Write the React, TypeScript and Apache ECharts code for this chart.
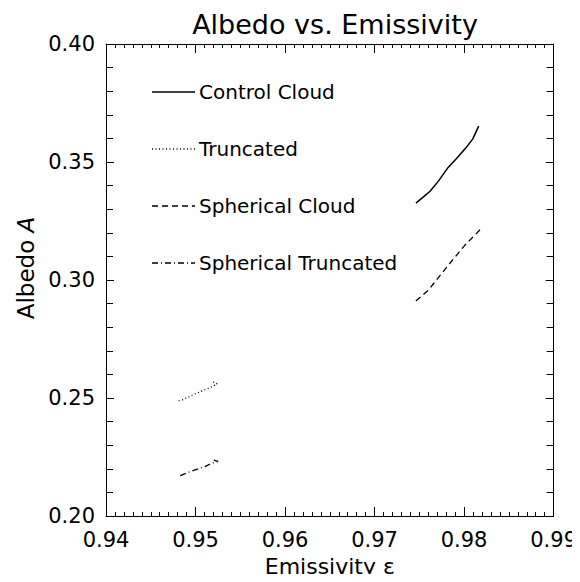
import React, { useEffect, useRef } from "react";
import * as echarts from "echarts";

const seriesNames = ["Control Cloud", "Truncated", "Spherical Cloud", "Spherical Truncated"];

const controlX = [0.97462, 0.97546, 0.9762, 0.97711, 0.97822, 0.97913, 0.98023, 0.98097, 0.98163];
const controlY = [0.3326, 0.3352, 0.3376, 0.3418, 0.3477, 0.3514, 0.3561, 0.3598, 0.3652];

const truncX = [0.94812, 0.94859, 0.94903, 0.94988, 0.95068, 0.9516, 0.95241, 0.95207, 0.95171];
const truncY = [0.24884, 0.24926, 0.25011, 0.25166, 0.25291, 0.25432, 0.256, 0.25671, 0.25655];

const sphX = [0.97462, 0.97601, 0.97822, 0.98005, 0.98207];
const sphY = [0.2911, 0.2957, 0.3062, 0.3146, 0.3224];

const sphTruncX = [0.94829, 0.94922, 0.94995, 0.95105, 0.95178, 0.95252, 0.95196];
const sphTruncY = [0.21712, 0.21853, 0.21951, 0.22092, 0.22232, 0.22316, 0.22372];

const xTicks = { min: 0.94, max: 0.99, interval: 0.01 };
const yTicks = { min: 0.2, max: 0.4, interval: 0.05 };

const FONT = "DejaVu Sans";

function pairs(xs: number[], ys: number[]) {
  return xs.map((x, i) => [x, ys[i]]);
}

export default function App() {
  const ref = useRef<HTMLDivElement>(null);
  useEffect(() => {
    if (!ref.current) return;
    const chart = echarts.init(ref.current, undefined, { renderer: "svg" });
    const axisCommon = {
      axisLine: { show: true, onZero: false, lineStyle: { color: "#000", width: 1 } },
      splitLine: { show: false },
      minorSplitLine: { show: false },
    };
    const xBase = {
      type: "value",
      min: xTicks.min,
      max: xTicks.max,
      interval: xTicks.interval,
      ...axisCommon,
      axisTick: { show: true, inside: true, length: 9, lineStyle: { color: "#000" } },
      minorTick: { show: true, splitNumber: 10, length: 4, lineStyle: { color: "#000" } },
    };
    const yBase = {
      type: "value",
      min: yTicks.min,
      max: yTicks.max,
      interval: yTicks.interval,
      ...axisCommon,
      axisTick: { show: true, inside: true, length: 8, lineStyle: { color: "#000" } },
      minorTick: { show: true, splitNumber: 5, length: 7, lineStyle: { color: "#000" } },
    };
    const dashes: any[] = [null, [1, 2.5], [6, 4], [6, 3, 1, 3]];
    const widths = [1.5, 1.3, 1.3, 1.3];
    const datas = [
      pairs(controlX, controlY),
      pairs(truncX, truncY),
      pairs(sphX, sphY),
      pairs(sphTruncX, sphTruncY),
    ];
    const legendGraphics: any[] = [];
    seriesNames.forEach((name, i) => {
      const y = 92 + i * 57;
      legendGraphics.push({
        type: "line",
        shape: { x1: 152, y1: y, x2: 195, y2: y },
        style: { stroke: "#000", lineWidth: widths[i], lineDash: dashes[i] || undefined },
        silent: true,
      });
      legendGraphics.push({
        type: "text",
        x: 199,
        y,
        style: {
          text: name,
          fill: "#000",
          font: `20px "${FONT}"`,
          verticalAlign: "middle",
          align: "left",
        },
        silent: true,
      });
    });
    chart.setOption({
      animation: false,
      backgroundColor: "#fff",
      title: {
        text: "Albedo vs. Emissivity",
        left: 330,
        textAlign: "center",
        top: 6,
        textStyle: { fontFamily: FONT, fontSize: 27, fontWeight: "normal", color: "#000" },
      },
      graphic: legendGraphics,
      grid: { left: 106, right: 23, top: 44, bottom: 62, containLabel: false },
      xAxis: [
        {
          ...xBase,
          position: "bottom",
          name: "Emissivity ε",
          nameLocation: "middle",
          nameGap: 39,
          nameTextStyle: { fontFamily: FONT, fontSize: 22, color: "#000" },
          axisLabel: {
            margin: 13,
            fontFamily: FONT,
            fontSize: 21,
            color: "#000",
            formatter: (v: number) => v.toFixed(2),
          },
        },
        { ...xBase, position: "top", axisLabel: { show: false } },
      ],
      yAxis: [
        {
          ...yBase,
          position: "left",
          name: "Albedo {i|A}",
          nameLocation: "middle",
          nameGap: 66,
          nameTextStyle: {
            fontFamily: FONT,
            fontSize: 23,
            color: "#000",
            padding: [0, 0, 0, 24],
            rich: { i: { fontFamily: FONT, fontSize: 23, fontStyle: "italic", color: "#000" } },
          },
          axisLabel: {
            margin: 11,
            fontFamily: FONT,
            fontSize: 21,
            color: "#000",
            formatter: (v: number) => v.toFixed(2),
          },
        },
        { ...yBase, position: "right", axisLabel: { show: false } },
      ],
      series: seriesNames.map((name, i) => ({
        name,
        type: "line",
        xAxisIndex: 0,
        yAxisIndex: 0,
        showSymbol: false,
        symbol: "none",
        smooth: false,
        data: datas[i],
        lineStyle: { color: "#000", width: widths[i], type: dashes[i] || "solid" },
        itemStyle: { color: "#000" },
      })),
    });
    return () => chart.dispose();
  }, []);
  return <div ref={ref} style={{ width: 580, height: 582, margin: -8 }} />;
}
